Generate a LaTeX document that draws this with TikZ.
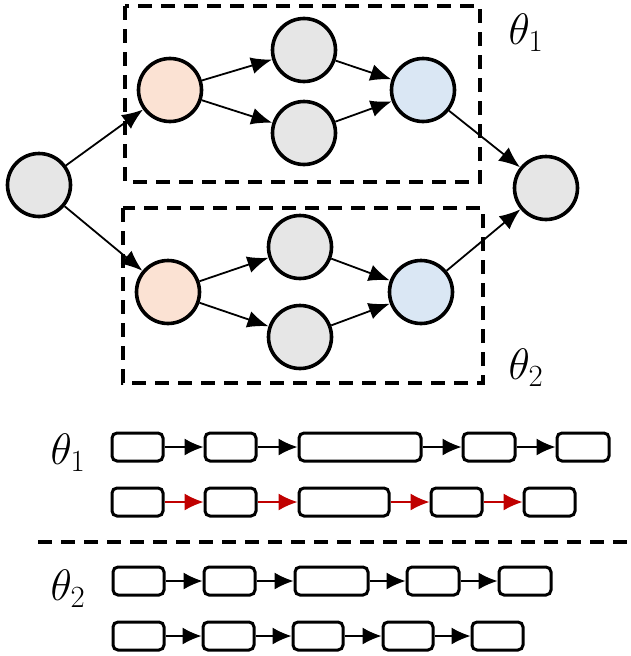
\RequirePackage{fix-cm}
\documentclass[tikz,border=0pt]{standalone}
\usepackage{tikz}
\usetikzlibrary{arrows.meta}
\definecolor{nodeGray}{HTML}{E6E6E6}
\definecolor{nodeOrange}{HTML}{FBE2D3}
\definecolor{nodeBlue}{HTML}{DAE7F4}
\definecolor{linkRed}{HTML}{C00000}
\tikzset{
  vertex/.style = {circle, draw=black, line width=3.6pt, fill=#1, minimum size=63pt, inner sep=0pt},
  link/.style = {color=#1, line width=1.8pt, -{Latex[length=21pt,width=17pt]}},
  step link/.style = {color=#1, line width=1.6pt, -{Latex[length=19pt,width=17pt]}},
  frame/.style = {color=#1, line width=3.6pt, dash pattern=on 14pt off 9pt},
  task/.style = {draw=#1, line width=3pt, rounded corners=5pt, minimum height=28pt, inner sep=0pt},
  label/.style = {font=\fontsize{44}{48}\selectfont}
}

\begin{document}
\begin{tikzpicture}[x=1pt, y=-1pt]

    \useasboundingbox (0,0) rectangle (631,656);

    % Frames
    \draw[frame={black}] (125,6) rectangle (480,182);
    \draw[frame={black}] (123,208) rectangle (483,383);

    % Graph
    \node[vertex={nodeGray}] (in) at (39,185) {};
    \node[vertex={nodeGray}] (out) at (546,188) {};

    \node[vertex={nodeOrange}] (a1) at (170,90) {};
    \node[vertex={nodeGray}] (b1) at (304,50) {};
    \node[vertex={nodeGray}] (c1) at (304,133) {};
    \node[vertex={nodeBlue}] (d1) at (423,90) {};

    \node[vertex={nodeOrange}] (a2) at (168,292) {};
    \node[vertex={nodeGray}] (b2) at (300,247) {};
    \node[vertex={nodeGray}] (c2) at (300,337) {};
    \node[vertex={nodeBlue}] (d2) at (421,292) {};

    \foreach \i in {1,2} {
      \draw[link={black}] (in) -- (a\i);
      \draw[link={black}] (a\i) -- (b\i);
      \draw[link={black}] (a\i) -- (c\i);
      \draw[link={black}] (b\i) -- (d\i);
      \draw[link={black}] (c\i) -- (d\i);
      \draw[link={black}] (d\i) -- (out);
    }

    % Labels
    \node[label] (t1) at (526,33) {$\theta_1$};
    \node[label] (t2) at (526,368) {$\theta_2$};
    \node[label] (s1) at (68,453) {$\theta_1$};
    \node[label] (s2) at (68,589) {$\theta_2$};

    % Schedules
    \node[task={black}, minimum width=51pt] (p1) at (137.5,447) {};
    \node[task={black}, minimum width=51pt] (p2) at (230.5,447) {};
    \node[task={black}, minimum width=122pt] (p3) at (360,447) {};
    \node[task={black}, minimum width=52pt] (p4) at (489,447) {};
    \node[task={black}, minimum width=52pt] (p5) at (583,447) {};

    \node[task={black}, minimum width=51pt] (q1) at (137.5,502) {};
    \node[task={black}, minimum width=51pt] (q2) at (230.5,502) {};
    \node[task={black}, minimum width=90pt] (q3) at (344,502) {};
    \node[task={black}, minimum width=51pt] (q4) at (456.5,502) {};
    \node[task={black}, minimum width=51pt] (q5) at (549.5,502) {};

    \node[task={black}, minimum width=51pt] (r1) at (138.5,581) {};
    \node[task={black}, minimum width=51pt] (r2) at (229.5,581) {};
    \node[task={black}, minimum width=73pt] (r3) at (331.5,581) {};
    \node[task={black}, minimum width=52pt] (r4) at (433,581) {};
    \node[task={black}, minimum width=52pt] (r5) at (525,581) {};

    \node[task={black}, minimum width=51pt] (u1) at (138.5,636) {};
    \node[task={black}, minimum width=51pt] (u2) at (228.5,636) {};
    \node[task={black}, minimum width=50pt] (u3) at (318,636) {};
    \node[task={black}, minimum width=50pt] (u4) at (408,636) {};
    \node[task={black}, minimum width=51pt] (u5) at (497.5,636) {};

    \foreach \i/\j in {1/2,2/3,3/4,4/5} {
      \draw[step link={black}] (p\i) -- (p\j);
      \draw[step link={linkRed}] (q\i) -- (q\j);
      \draw[step link={black}] (r\i) -- (r\j);
      \draw[step link={black}] (u\i) -- (u\j);
    }

    % Separator
    \coordinate (sepL) at (38,542);
    \coordinate (sepR) at (627,542);
    \draw[frame={black}] (sepL) -- (sepR);

\end{tikzpicture}
\end{document}
